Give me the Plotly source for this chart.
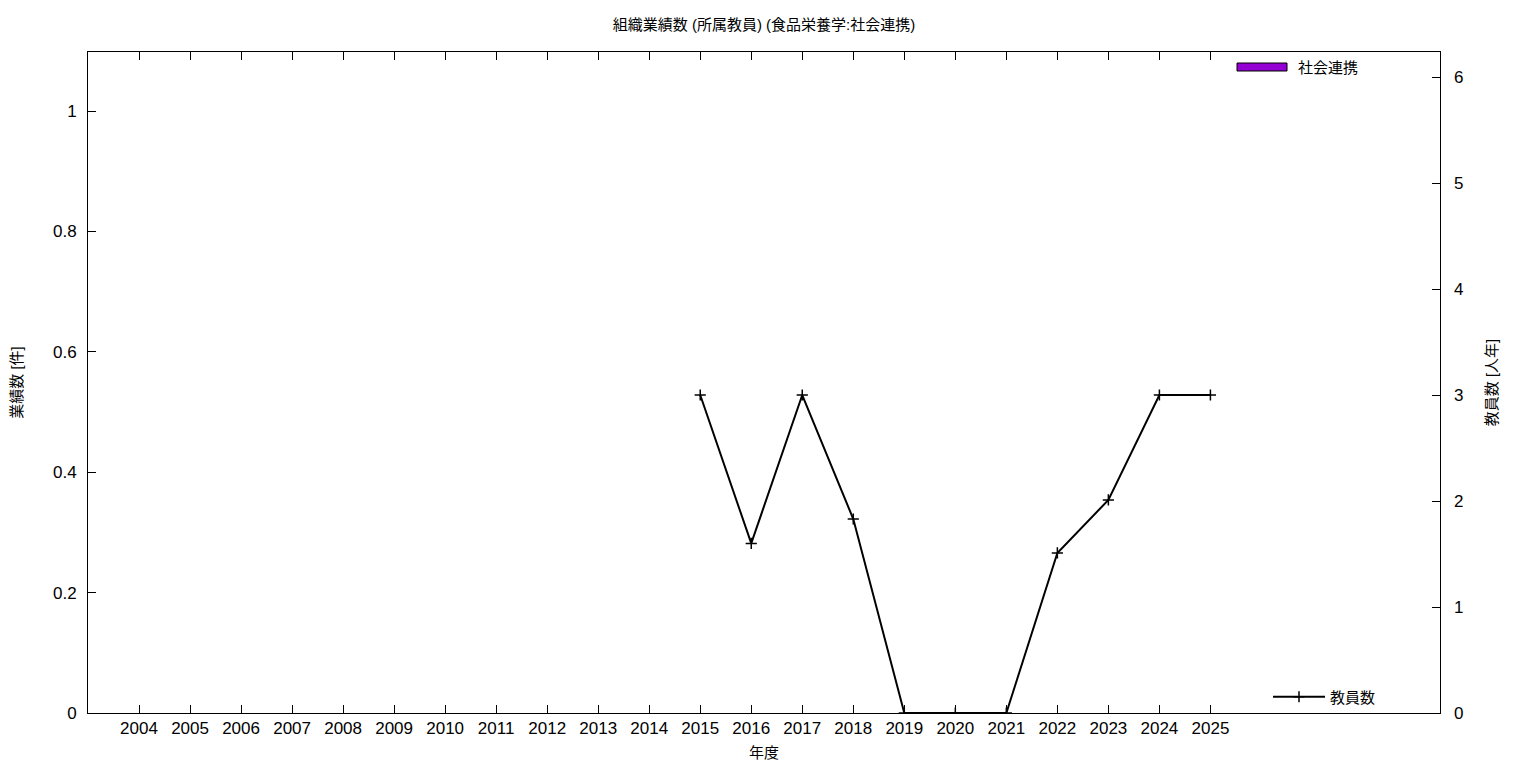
import plotly.graph_objects as go

years = list(range(2004, 2026))
social = [0] * len(years)  # 社会連携 (件)
staff_years = [2015, 2016, 2017, 2018, 2019, 2020, 2021, 2022, 2023, 2024, 2025]
staff = [3, 1.6, 3, 1.83, 0, 0, 0, 1.51, 2.01, 3, 3]  # 教員数 (人年)

FONT = "Liberation Sans, Noto Sans CJK JP, sans-serif"

fig = go.Figure()
fig.add_trace(go.Bar(x=years, y=social, name="社会連携", marker=dict(color="#9400D3", line=dict(width=0)),
                     showlegend=False, yaxis="y"))
fig.add_trace(go.Scatter(x=staff_years, y=staff, name="教員数", mode="lines+markers", yaxis="y2",
                         line=dict(color="black", width=2),
                         marker=dict(symbol="cross-thin", size=8, line=dict(color="black", width=1.5)),
                         legend="legend"))

fig.update_layout(
    width=1536, height=768,
    paper_bgcolor="white", plot_bgcolor="white",
    margin=dict(l=80, r=104, t=44, b=63, autoexpand=False),
    font=dict(family=FONT, size=17, color="black"),
    title=dict(text="組織業績数 (所属教員) (食品栄養学:社会連携)", x=(764 - 8) / 1536, xanchor="center",
               y=1 - 17 / 768, yanchor="middle", font=dict(size=15)),
    xaxis=dict(range=[2003, 2029.5], tickvals=years, ticktext=[str(y) for y in years], automargin=False,
               ticks="inside", ticklen=8, tickcolor="black", showline=True, linecolor="black", linewidth=1,
               mirror="ticks", showgrid=False, zeroline=False,
               title=dict(text="年度", font=dict(size=15), standoff=10), tickfont=dict(size=17)),
    yaxis=dict(range=[0, 1.098], tickvals=[0, 0.2, 0.4, 0.6, 0.8, 1], ticktext=["0", "0.2", "0.4", "0.6", "0.8", "1"],
               ticks="inside", ticklen=8, tickcolor="black", showline=True, linecolor="black", linewidth=1,
               mirror=True, showgrid=False, zeroline=False, automargin=False, ticklabelstandoff=7,
               title=dict(text="業績数 [件]", font=dict(size=15), standoff=32), tickfont=dict(size=17)),
    yaxis2=dict(range=[0, 6.236], tickvals=[0, 1, 2, 3, 4, 5, 6], overlaying="y", side="right",
                ticks="inside", ticklen=8, tickcolor="black", showline=False, automargin=False,
                showgrid=False, zeroline=False, ticklabelstandoff=13,
                title=dict(text="教員数 [人年]", font=dict(size=15), standoff=24), tickfont=dict(size=17)),
    legend=dict(x=(1381 - 88) / 1352, y=(713 - 697) / 661, xanchor="right", yanchor="middle", bgcolor="rgba(0,0,0,0)",
                font=dict(size=15), itemwidth=52),
    bargap=0.5,
)

# legend key for the bar series (drawn in paper coordinates)
fig.add_shape(type="rect", xref="paper", yref="paper",
              x0=(1237 - 88) / 1352, x1=(1287 - 88) / 1352, y0=(713 - 71) / 661, y1=(713 - 63) / 661,
              fillcolor="#9400D3", line=dict(color="black", width=1))
fig.add_annotation(xref="paper", yref="paper", x=(1296 - 88) / 1352, y=(713 - 67) / 661, text="社会連携",
                   showarrow=False, xanchor="left", yanchor="middle", font=dict(size=15))

fig.write_html("out.html")
